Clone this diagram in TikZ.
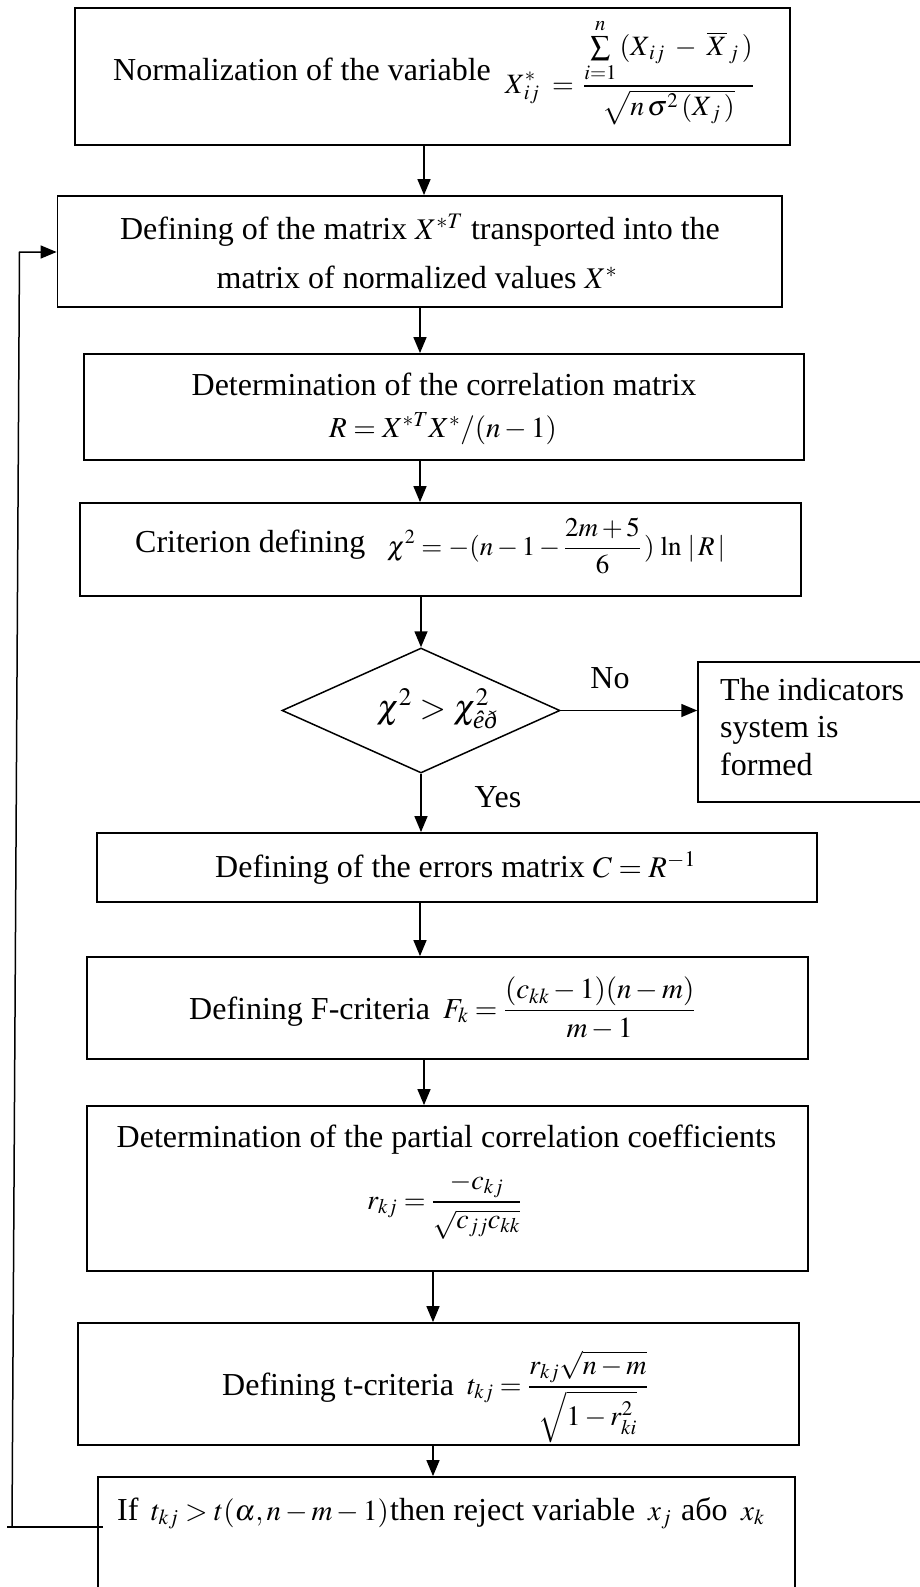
\documentclass[tikz,border=0pt]{standalone}
\usepackage{amsmath}
\usepackage{mathptmx}
\usepackage[no-math]{fontspec}
\setmainfont{Liberation Serif}
\usetikzlibrary{arrows.meta,shapes.geometric}
\newcommand{\msz}[1]{\fontsize{#1}{#1}\selectfont}
\tikzset{
  box/.style={draw, line width=1.8pt, inner sep=0pt},
  txt/.style={inner sep=0pt},
  arr/.style={line width=1.5pt, -{Triangle[length=16pt,width=13pt]}},
  plain/.style={line width=1.5pt},
}
\begin{document}
\begin{tikzpicture}[x=1pt,y=-1pt,every node/.style={font=\fontsize{32}{40}\selectfont}]
\useasboundingbox (0,0) rectangle (920,1587);
\clip (0,0) rectangle (920,1587);
\fill[white] (0,0) rectangle (920,1587);

\coordinate (xa) at (424,0);
\coordinate (xb) at (420,0);
\coordinate (xc) at (433,0);

% Box 1
\node[box, minimum width=715pt, minimum height=137pt] (b1) at (432.5,76.5) {};
\node[txt, anchor=base west] (t1) at (113,81) {Normalization of the variable};
\node[txt, anchor=base west] (m1) at (505,93)
  {\msz{28}$\displaystyle X^{*}_{\,ij}\;=\,\frac{\sum\limits_{i=1}^{n}\,(X_{\,ij}\;-\;\overline{X}_{\,j}\,)}{\sqrt{n\,\sigma^{2}\,(X_{\,j}\,)}}$};

% Box 2
\node[box, minimum width=724.5pt, minimum height=111pt] (b2) at (419.75,251.5) {};
\node[txt, anchor=base] (t2a) at (420,239) {Defining of the matrix\ {\msz{30}$X^{*T}$} transported into the};
\node[txt, anchor=base] (t2b) at (417,288) {matrix of normalized values\ {\msz{30}$X^{*}$}};

% Box 3
\node[box, minimum width=720pt, minimum height=106pt] (b3) at (444,407) {};
\node[txt, anchor=base] (t3a) at (444,395) {Determination of the correlation matrix};
\node[txt, anchor=base] (t3b) at (443,437) {\msz{29}$R=X^{*T}X^{*}/(n-1)$};

% Box 4
\node[box, minimum width=721pt, minimum height=93pt] (b4) at (440.5,549.5) {};
\node[txt, anchor=base west] (t4) at (135,552) {Criterion defining};
\node[txt, anchor=base west] (m4) at (387,555)
  {\msz{27}$\displaystyle \chi^{2}=-(n-1-\frac{2m+5}{6}\,)\,\ln\,|\,R\,|$};

% Decision
\node[draw, diamond, line width=1.5pt, inner sep=0pt, minimum width=278pt, minimum height=125pt] (d) at (421,710.5) {};
\node[txt, anchor=base] (dt) at (437,718) {\msz{34}$\chi^{2}>\chi^{2}_{\text{\itshape êð}}$};

% Indicators box
\node[box, line width=1.5pt, minimum width=227pt, minimum height=140pt] (ind) at (811.5,732) {};
\node[txt, anchor=north west, align=left, font=\fontsize{32}{37.5}\selectfont] (indt) at (720,678)
  {The indicators\\ system is\\ formed};

\node[txt, anchor=base] (no) at (610,688) {No};
\node[txt, anchor=base] (yes) at (498,807) {Yes};

% Box 5
\node[box, minimum width=720pt, minimum height=69pt] (b5) at (457,867.5) {};
\node[txt, anchor=base west] (t5) at (215,877) {Defining of the errors matrix\ {\msz{30}$C=R^{-1}$}};

% Box 6
\node[box, minimum width=721pt, minimum height=102pt] (b6) at (447.5,1008) {};
\node[txt, anchor=base west] (t6) at (189,1019) {Defining F-criteria};
\node[txt, anchor=base west] (m6) at (443,1018)
  {\msz{29}$\displaystyle F_{k}=\frac{(c_{kk}-1)(n-m)}{m-1}$};

% Box 7
\node[box, minimum width=721pt, minimum height=165pt] (b7) at (447.5,1188.5) {};
\node[txt, anchor=base] (t7) at (446.5,1147) {Determination of the partial correlation coefficients};
\node[txt, anchor=base west] (m7) at (367,1209)
  {\msz{28}$\displaystyle r_{kj}=\frac{-c_{kj}}{\sqrt{c_{jj}c_{kk}}}$};

% Box 8
\node[box, minimum width=721pt, minimum height=122pt] (b8) at (438.5,1384) {};
\node[txt, anchor=base west] (t8) at (222,1395) {Defining t-criteria};
\node[txt, anchor=base west] (m8) at (467,1394)
  {\msz{28}$\displaystyle t_{kj}=\frac{r_{kj}\sqrt{n-m}}{\sqrt{1-r_{ki}^{2}}}$};

% Box 9
\node[box, minimum width=697pt, minimum height=126pt] (b9) at (446.5,1540) {};
\node[txt, anchor=base west] (t9a) at (117,1520) {If};
\node[txt, anchor=base west] (t9b) at (151,1520) {\msz{29}$t_{kj}>t(\alpha,n-m-1)$};
\node[txt, anchor=base west] (t9c) at (390,1520) {then reject variable};
\node[txt, anchor=base west] (t9d) at (648,1520) {\msz{29}$x_{j}$};
\node[txt, anchor=base west] (t9e) at (681,1520) {або};
\node[txt, anchor=base west] (t9f) at (741,1520) {\msz{29}$x_{k}$};

% connectors
\draw[arr] (b1.south -| xa) -- (b2.north -| xa);
\draw[arr] (b2.south -| xb) -- (b3.north -| xb);
\draw[arr] (b3.south -| xb) -- (b4.north -| xb);
\draw[arr] (b4.south -| d.north) -- (d.north);
\draw[arr] (d.south) -- (b5.north -| d.south);
\draw[arr] (d.east) -- (ind.west |- d.east);
\draw[arr] (b5.south -| xb) -- (b6.north -| xb);
\draw[arr] (b6.south -| xa) -- (b7.north -| xa);
\draw[arr] (b7.south -| xc) -- (b8.north -| xc);
\draw[arr] (b8.south -| xc) -- (b9.north -| xc);

% feedback loop
\coordinate (f0) at (7,1527);
\coordinate (f1) at (12,1527);
\coordinate (f2) at (19.5,252);
\coordinate (f3) at (103,1527);
\draw[plain] (f0) -- (f3);
\draw[arr] (f1) -- (f2) -- (b2.west |- f2);
\end{tikzpicture}
\end{document}
